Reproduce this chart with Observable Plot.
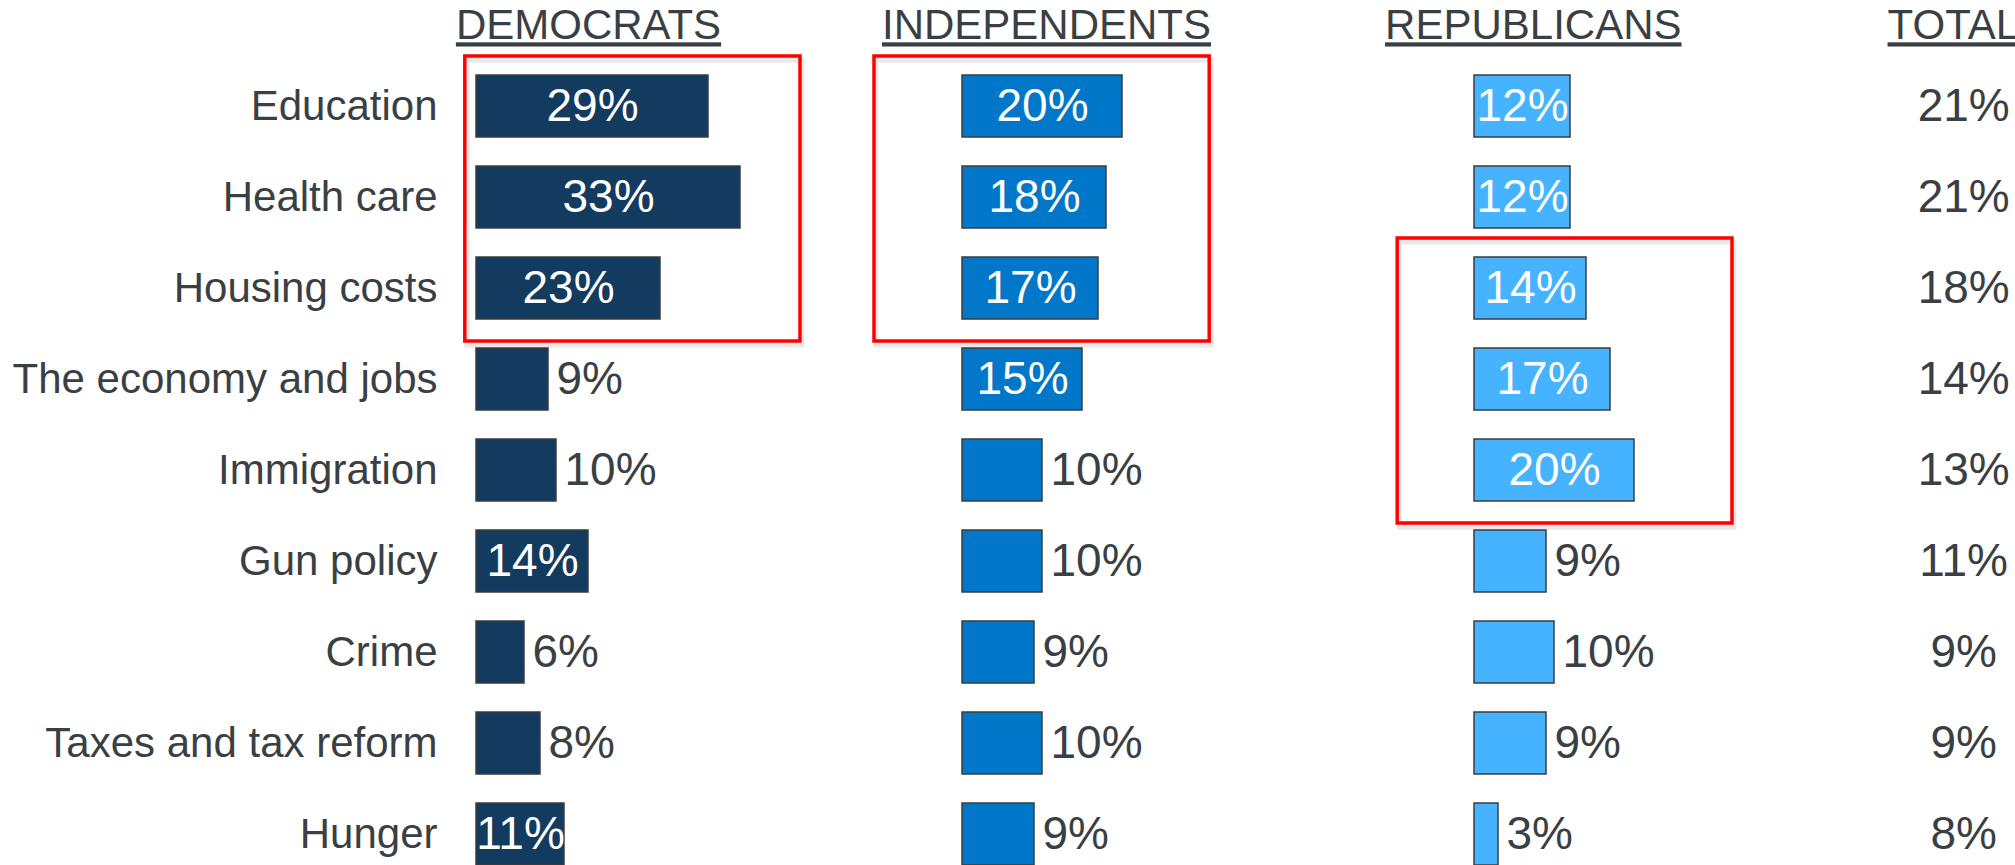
<!DOCTYPE html>
<html><head><meta charset="utf-8">
<script src="https://cdn.jsdelivr.net/npm/d3@7"></script>
<script src="https://cdn.jsdelivr.net/npm/@observablehq/plot@0.6"></script>
<style>
html,body{margin:0;padding:0;background:#fff;}
g[aria-label="headers"] text, text[aria-label="headers"], .hdr{text-decoration:underline;}
</style></head><body><div id="chart"></div>
<script>
// ---- data ----
const categories = ["Education","Health care","Housing costs","The economy and jobs","Immigration","Gun policy","Crime","Taxes and tax reform","Hunger"];
const parties = ["DEMOCRATS","INDEPENDENTS","REPUBLICANS"];
const headers = ["DEMOCRATS","INDEPENDENTS","REPUBLICANS","TOTAL"];
const democrats    = [29,33,23, 9,10,14, 6, 8,11];
const independents = [20,18,17,15,10,10, 9,10, 9];
const republicans  = [12,12,14,17,20, 9,10, 9, 3];
const total        = [21,21,18,14,13,11, 9, 9, 8];
const partyColors  = ["#133b5f","#0077c8","#45b3ff"];
const highlights = [
  {party:"DEMOCRATS", from:"Education", to:"Housing costs"},
  {party:"INDEPENDENTS", from:"Education", to:"Housing costs"},
  {party:"REPUBLICANS", from:"Housing costs", to:"Immigration"}
];

// ---- layout (x in percentage-point units of one shared x scale) ----
const W = 2015, H = 865, PX = 8;
const colStart = {DEMOCRATS: 59.5, INDEPENDENTS: 120.25, REPUBLICANS: 184.25};
const headerX = {DEMOCRATS: 73.5, INDEPENDENTS: 130.75, REPUBLICANS: 191.6, TOTAL: 244.1};
const totalX = 245.4;
const boxX = {DEMOCRATS: [-1.4, 40.5], INDEPENDENTS: [-11, 30.9], REPUBLICANS: [-9.6, 32.25]};
const textColor = "#3a3f44";
const font = "'Liberation Sans', Arial, Helvetica, sans-serif";

const series = [democrats, independents, republicans];
const rows = parties.flatMap((p, i) => categories.map((c, j) => ({party: p, category: c, value: series[i][j]})));
const totalRows = categories.map((c, i) => ({category: c, value: total[i]}));

const boxes = (index, scales) => {
  const g = d3.create("svg:g").attr("aria-label", "highlight boxes");
  const bw = scales.y.bandwidth();
  for (const b of highlights) {
    const x1 = scales.x(colStart[b.party] + boxX[b.party][0]);
    const x2 = scales.x(colStart[b.party] + boxX[b.party][1]);
    const y1 = scales.y(b.from) - 19;
    const y2 = scales.y(b.to) + bw + 22;
    g.append("rect").attr("x", x1 + 2).attr("y", y1 + 4).attr("width", x2 - x1).attr("height", y2 - y1)
      .attr("fill", "none").attr("stroke", "#d8d8d8").attr("stroke-width", 5).attr("opacity", 0.6);
    g.append("rect").attr("x", x1).attr("y", y1).attr("width", x2 - x1).attr("height", y2 - y1)
      .attr("fill", "none").attr("stroke", "#ff0000").attr("stroke-width", 3.5);
  }
  return g.node();
};

const chart = Plot.plot({
  width: W, height: H,
  marginLeft: 445, marginTop: 0, marginRight: 0, marginBottom: 0,
  style: {fontFamily: font, background: "#fff", overflow: "visible"},
  x: {domain: [0, W / PX], range: [0, W], axis: null},
  y: {domain: categories, range: [75, 75 + 91 * (categories.length - 0.324)], paddingInner: 0.324, paddingOuter: 0, align: 0, axis: null},
  color: {domain: parties, range: partyColors},
  marks: [
    boxes,
    Plot.barX(rows, {y: "category", x1: d => colStart[d.party], x2: d => colStart[d.party] + d.value,
      fill: "party", stroke: "#3c3c3c", strokeWidth: 1.5}),
    Plot.text(rows.filter(d => d.value > 10), {y: "category", x: d => colStart[d.party] + d.value / 2,
      text: d => d.value + "%", fill: "white", fontSize: 46, fontFamily: font}),
    Plot.text(rows.filter(d => d.value <= 10), {y: "category", x: d => colStart[d.party] + d.value,
      text: d => d.value + "%", dx: 8, textAnchor: "start", fill: textColor, fontSize: 46, fontFamily: font}),
    Plot.text(totalRows, {y: "category", x: () => totalX, text: d => d.value + "%",
      fill: textColor, fontSize: 46, fontFamily: font}),
    Plot.text(headers, {x: d => headerX[d], frameAnchor: "top", lineAnchor: "top", dy: 9,
      text: d => d, fill: textColor, fontSize: 42, fontFamily: font, ariaLabel: "headers"}),
    Plot.axisY(categories, {tickSize: 0, tickPadding: 8, fontSize: 42, color: textColor, label: null, fontFamily: font})
  ]
});
// underline the column headers
d3.select(chart).selectAll("text").filter(function() { return headers.includes(this.textContent); })
  .classed("hdr", true).style("text-decoration", "underline");
document.getElementById("chart").appendChild(chart);
</script></body></html>
